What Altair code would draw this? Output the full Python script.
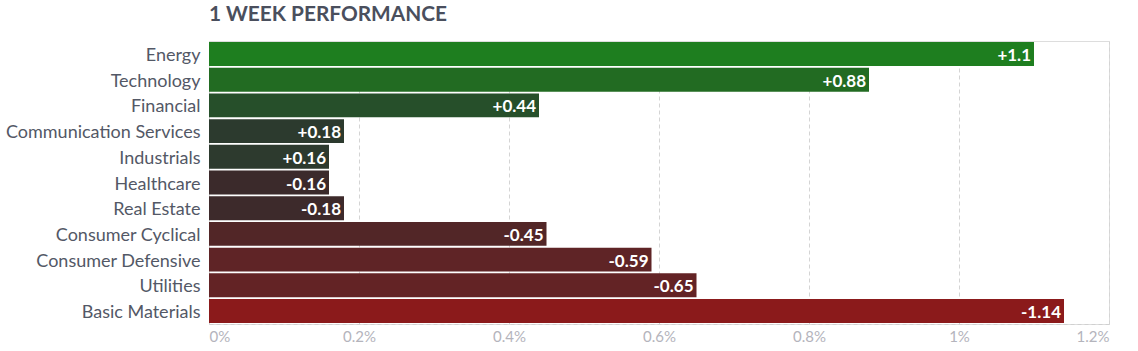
import altair as alt
import pandas as pd

sectors = ["Energy", "Technology", "Financial", "Communication Services", "Industrials",
           "Healthcare", "Real Estate", "Consumer Cyclical", "Consumer Defensive",
           "Utilities", "Basic Materials"]
changes = [1.1, 0.88, 0.44, 0.18, 0.16, -0.16, -0.18, -0.45, -0.59, -0.65, -1.14]
labels = ["+1.1", "+0.88", "+0.44", "+0.18", "+0.16", "-0.16", "-0.18", "-0.45", "-0.59", "-0.65", "-1.14"]
colors = ["#1e7e1f", "#226b22", "#264f2a", "#2c3a2e", "#2d3a2e", "#3b2a2b",
          "#3d2a2b", "#522627", "#5f2426", "#632325", "#8b1a1b"]
ticks = [0, 0.2, 0.4, 0.6, 0.8, 1.0, 1.2]

df = pd.DataFrame({"sector": sectors, "change": changes, "label": labels, "color": colors})
df["mag"] = df["change"].abs()

y = alt.Y("sector:N", sort=sectors, title=None,
          scale=alt.Scale(paddingInner=0.07, paddingOuter=0.04),
          axis=alt.Axis(domain=False, ticks=False, labelPadding=9, labelFontSize=18,
                        labelLimit=300, labelOffset=2,
                        labelColor="#535866", labelFont="Lato", grid=False))
x = alt.X("mag:Q", title=None, scale=alt.Scale(domain=[0, 1.2], nice=False),
          axis=alt.Axis(values=ticks, labelExpr="format(datum.value, '~g') + '%'",
                        labelFontSize=15, labelColor="#b4b4bc", labelFont="Lato",
                        ticks=False, domain=True, domainColor="#d0d0d0", domainDash=[4, 3],
                        grid=True, gridColor="#d4d4d4", gridDash=[4, 3], labelPadding=5))

bars = alt.Chart(df).mark_bar().encode(
    y=y, x=x, color=alt.Color("color:N", scale=None)
)
text = alt.Chart(df).mark_text(align="right", baseline="middle", dx=-3, dy=2, color="white",
                               fontWeight="bold", fontSize=17, font="Lato").encode(
    y=alt.Y("sector:N", sort=sectors), x="mag:Q", text="label:N"
)

chart = (bars + text).properties(
    width=900, height=283,
    title=alt.Title("1 WEEK PERFORMANCE", anchor="start", frame="group", fontSize=20.8,
                    font="Lato", fontWeight="bold", color="#4a4f5d", offset=15),
    autosize=alt.AutoSizeParams(type="none"),
    padding={"left": 209, "top": 41, "right": 29, "bottom": 27},
).configure_view(stroke="#d4d4d4", strokeDash=[4, 3]).configure(background="white")

chart.save("out.html", embed_options={"renderer": "svg", "actions": False})
